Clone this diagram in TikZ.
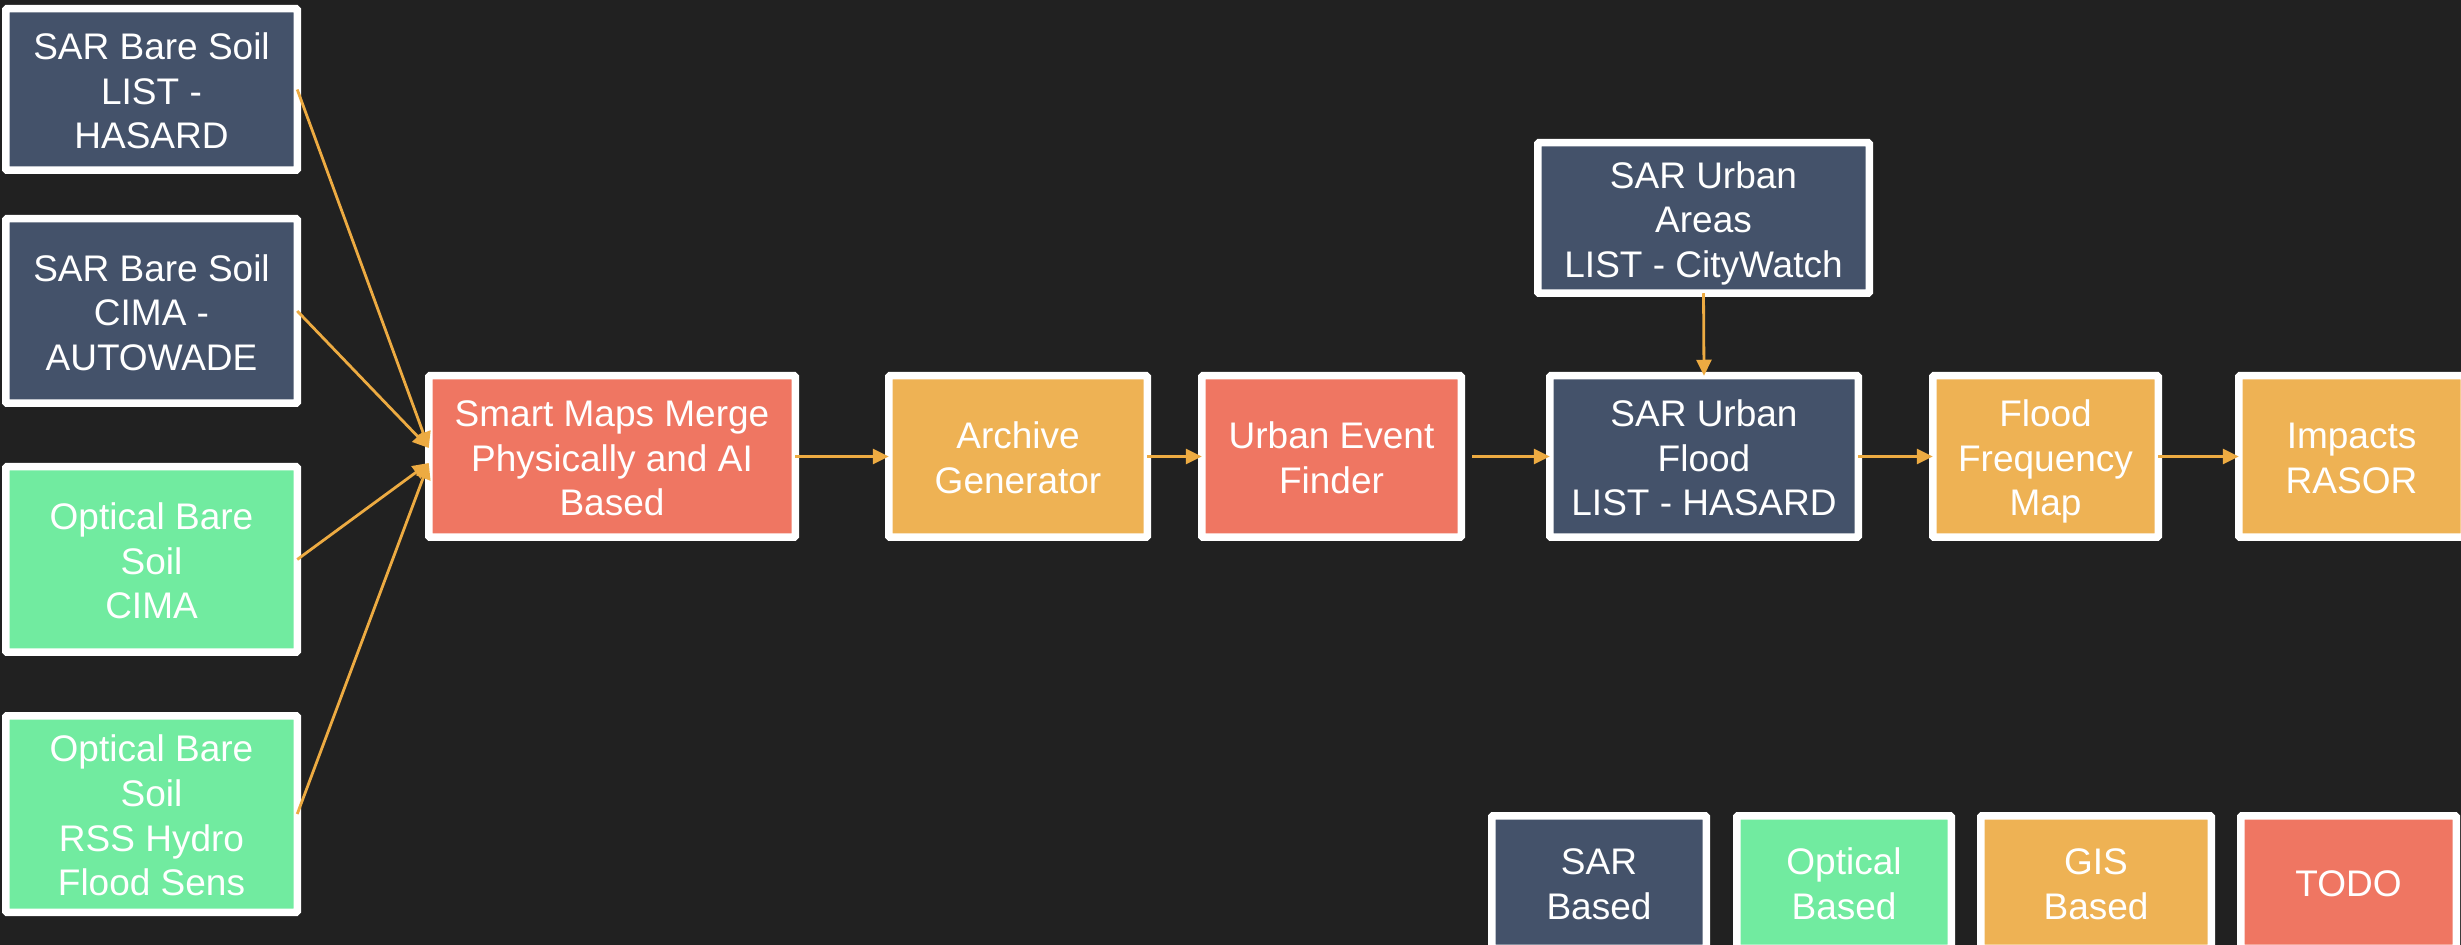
\documentclass[tikz,border=0pt]{standalone}
\usepackage{fontspec}
\setmainfont{Liberation Sans}
\usetikzlibrary{arrows.meta,calc}
\definecolor{bg}{HTML}{212121}
\definecolor{sarc}{HTML}{44526A}
\definecolor{optc}{HTML}{71EBA0}
\definecolor{gisc}{HTML}{EEB254}
\definecolor{todoc}{HTML}{EF7662}
\definecolor{arr}{HTML}{EDAB42}
\newcommand\topstrut{\rule{0pt}{1.05em}}
\newcommand\botstrut{\rule[-0.25em]{0pt}{0.25em}}
\begin{document}
\begin{tikzpicture}[x=0.5pt,y=-0.5pt,
  box/.style={draw=white, line width=3.75pt, rounded corners=0.6pt, outer sep=0pt,
    inner sep=0pt, align=center, text=white,
    font=\fontsize{18.5pt}{22.3pt}\selectfont},
  sarbox/.style={box, fill=sarc},
  optbox/.style={box, fill=optc},
  gisbox/.style={box, fill=gisc},
  todobox/.style={box, fill=todoc},
  link/.style={draw=arr, line width=1.4pt, line join=miter,
    -{Triangle[length=8pt,width=7.5pt]}}]
\fill[bg] (0,0) rectangle (2461,945);
\useasboundingbox (0,0) rectangle (2461,945);
\clip (0,0) rectangle (2461,945);

% left sources
\node[sarbox, minimum width=145.75pt, minimum height=80.75pt] (b1) at (151.5,89.5)
  {\topstrut SAR Bare Soil\\LIST -\\HASARD\botstrut};
\node[sarbox, minimum width=145.75pt, minimum height=92.25pt] (b2) at (151.5,311)
  {\topstrut SAR Bare Soil\\CIMA -\\AUTOWADE\botstrut};
\node[optbox, minimum width=145.75pt, minimum height=92.75pt] (b3) at (151.5,559.5)
  {\topstrut Optical Bare\\Soil\\CIMA\botstrut};
\node[optbox, minimum width=145.75pt, minimum height=98.25pt] (b4) at (151.5,814)
  {\topstrut Optical Bare\\Soil\\RSS Hydro\\Flood Sens\botstrut};

% main chain
\node[todobox, minimum width=183.25pt, minimum height=80.75pt] (smart) at (612,456.5)
  {\topstrut Smart Maps Merge\\Physically and AI\\Based\botstrut};
\node[gisbox, minimum width=129.25pt, minimum height=80.75pt] (arch) at (1018,456.5)
  {\topstrut Archive\\Generator\botstrut};
\node[todobox, minimum width=129.75pt, minimum height=80.75pt] (uef) at (1331.5,456.5)
  {\topstrut Urban Event\\Finder\botstrut};
\node[sarbox, minimum width=154.25pt, minimum height=80.75pt] (suf) at (1704,456.5)
  {\topstrut SAR Urban\\Flood\\LIST - HASARD\botstrut};
\node[sarbox, minimum width=165.75pt, minimum height=75.25pt] (sua) at (1703.5,218)
  {\topstrut SAR Urban\\Areas\\LIST - CityWatch\botstrut};
\node[gisbox, minimum width=112.75pt, minimum height=80.75pt] (ffm) at (2045.5,456.5)
  {\topstrut Flood\\Frequency\\Map\botstrut};
\node[gisbox, minimum width=112.75pt, minimum height=80.75pt] (imp) at (2351.5,456.5)
  {\topstrut Impacts\\RASOR\botstrut};

% legend
\node[sarbox, minimum width=107.25pt, minimum height=66.25pt] (lsar) at (1599,882)
  {\topstrut SAR\\Based\botstrut};
\node[optbox, minimum width=107.25pt, minimum height=66.25pt] (lopt) at (1844,882)
  {\topstrut Optical\\Based\botstrut};
\node[gisbox, minimum width=115.25pt, minimum height=66.25pt] (lgis) at (2096,882)
  {\topstrut GIS\\Based\botstrut};
\node[todobox, minimum width=107.75pt, minimum height=66.25pt] (ltodo) at (2348.5,882)
  {\topstrut TODO\botstrut};

% converging arrows
\coordinate (m1) at ($(smart.west)+(0,-8.5)$);
\coordinate (m2) at ($(smart.west)+(0,6.5)$);
\draw[link] (b1.east) -- (m1);
\draw[link] (b2.east) -- (m1);
\draw[link] (b3.east) -- (m2);
\draw[link] (b4.east) -- (m2);

% chain arrows
\draw[link] (smart.east) -- (arch.west);
\draw[link] (arch.east) -- (uef.west);
\draw[link, shorten <=5.5pt] (uef.east) -- (suf.west);
\draw[link] (suf.east) -- (ffm.west);
\draw[link] (ffm.east) -- (imp.west);
\draw[link] (sua.south) -- (suf.north);
\end{tikzpicture}
\end{document}
